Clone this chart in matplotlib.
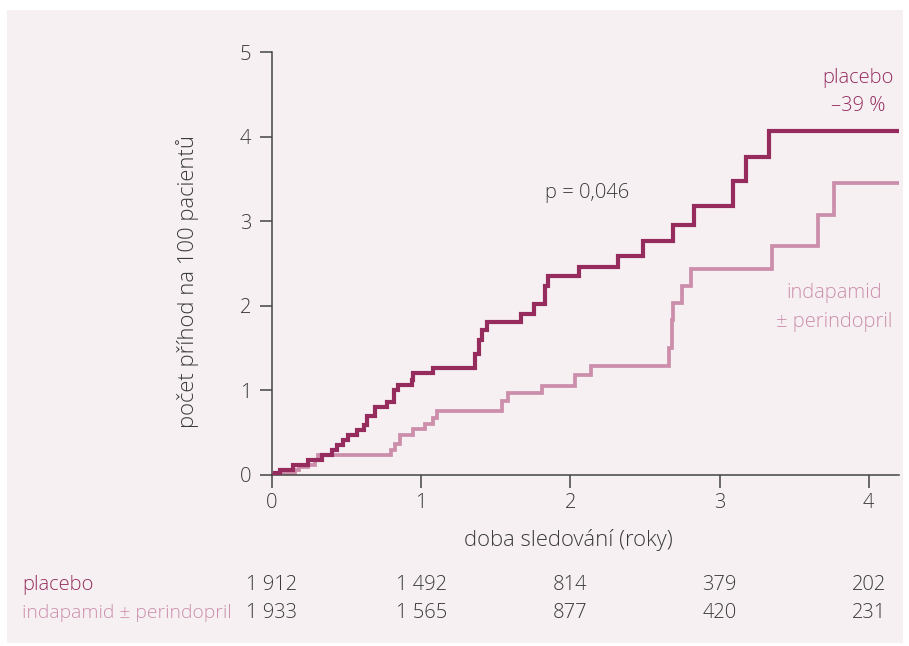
import matplotlib
matplotlib.use('Agg')
import matplotlib.pyplot as plt
from matplotlib.patches import Rectangle
import matplotlib.transforms as mtransforms

# --- data ---
placebo_t = [0, 0.02, 0.054, 0.14, 0.24, 0.335, 0.40, 0.435, 0.476, 0.51, 0.57, 0.62,
             0.64, 0.69, 0.77, 0.82, 0.845, 0.94, 0.945, 1.08, 1.36, 1.39, 1.41, 1.44,
             1.67, 1.756, 1.83, 1.85, 2.06, 2.32, 2.49, 2.69, 2.83, 3.09, 3.18, 3.33, 4.22]
placebo_v = [0, 0.02, 0.06, 0.12, 0.18, 0.24, 0.30, 0.35, 0.41, 0.47, 0.53, 0.59,
             0.70, 0.80, 0.86, 1.00, 1.06, 1.12, 1.20, 1.26, 1.43, 1.60, 1.71, 1.81,
             1.90, 2.02, 2.23, 2.35, 2.455, 2.59, 2.77, 2.96, 3.18, 3.48, 3.76, 4.07, 4.07]

indap_t = [0, 0.02, 0.154, 0.18, 0.24, 0.29, 0.31, 0.80, 0.824, 0.858, 0.947, 1.025,
           1.081, 1.104, 1.54, 1.585, 1.81, 2.03, 2.14, 2.66, 2.68, 2.69, 2.745, 2.81,
           3.35, 3.66, 3.77, 4.22]
indap_v = [0, 0.02, 0.06, 0.09, 0.12, 0.18, 0.236, 0.295, 0.366, 0.473, 0.54, 0.60,
           0.67, 0.76, 0.87, 0.97, 1.05, 1.18, 1.29, 1.50, 1.83, 2.03, 2.23, 2.43,
           2.71, 3.07, 3.455, 3.455]

xticks = [0, 1, 2, 3, 4]
yticks = [0, 1, 2, 3, 4, 5]
risk_placebo = ['1 912', '1 492', '814', '379', '202']
risk_indap = ['1 933', '1 565', '877', '420', '231']

DARK = '#952c5d'
LIGHT = '#cc8eab'
TXT = '#3a3a3a'
FS = 14.5
FS_LAB = 15.8

plt.rcParams['font.family'] = ['Open Sans', 'DejaVu Sans']
plt.rcParams['font.weight'] = 'light'

W, H = 909, 646
fig = plt.figure(figsize=(W/100, H/100), dpi=100)
fig.patch.set_facecolor('white')
fig.patches.append(Rectangle((7/W, 1-643/H), (903-7)/W, (643-10)/H,
                             transform=fig.transFigure, facecolor='#f6f0f3',
                             edgecolor='none', zorder=-10))

ax = fig.add_axes([272/W, 1-475/H, (898.6-272)/W, (475-52)/H])
ax.set_facecolor('none')
ax.step(placebo_t, placebo_v, where='post', color=DARK, lw=3, solid_joinstyle='miter', zorder=3)
ax.step(indap_t, indap_v, where='post', color=LIGHT, lw=2.7, solid_joinstyle='miter', zorder=2)

ax.set_xlim(0, 4.2)
ax.set_ylim(0, 5)
ax.set_xticks(xticks)
ax.set_yticks(yticks)
for s in ['top', 'right']:
    ax.spines[s].set_visible(False)
for s in ['left', 'bottom']:
    ax.spines[s].set_color('#444444')
    ax.spines[s].set_linewidth(1.1)
ax.tick_params(direction='out', length=9, width=1.1, color='#444444',
               labelsize=FS, labelcolor=TXT)
ax.tick_params(axis='y', pad=6)
ax.tick_params(axis='x', pad=4)

fig.text(188/W, 1-281/H, 'počet příhod na 100 pacientů', rotation=90,
         ha='center', va='center', fontsize=FS_LAB, color=TXT)
fig.text(568/W, 1-540/H, 'doba sledování (roky)', ha='center', va='center',
         fontsize=FS_LAB, color=TXT)

fig.text(587/W, 1-193/H, 'p = 0,046', ha='center', va='center', fontsize=FS, color=TXT)
fig.text(858/W, 1-78/H, 'placebo', ha='center', va='center', fontsize=FS, color=DARK)
fig.text(858/W, 1-106/H, '–39 %', ha='center', va='center', fontsize=FS, color=DARK)
fig.text(834/W, 1-293/H, 'indapamid', ha='center', va='center', fontsize=FS, color=LIGHT)
fig.text(834/W, 1-322/H, '± perindopril', ha='center', va='center', fontsize=FS, color=LIGHT)

# number at risk table
trans = mtransforms.blended_transform_factory(ax.transData, fig.transFigure)
fig.text(22/W, 1-585/H, 'placebo', ha='left', va='center', fontsize=FS, color=DARK)
fig.text(22/W, 1-613/H, 'indapamid ± perindopril', ha='left', va='center', fontsize=13.9, color=LIGHT)
for x, a, b in zip(xticks, risk_placebo, risk_indap):
    ax.text(x, 1-585/H, a, transform=trans, ha='center', va='center', fontsize=FS, color=TXT)
    ax.text(x, 1-613/H, b, transform=trans, ha='center', va='center', fontsize=FS, color=TXT)

fig.savefig('out.png', dpi=100)
